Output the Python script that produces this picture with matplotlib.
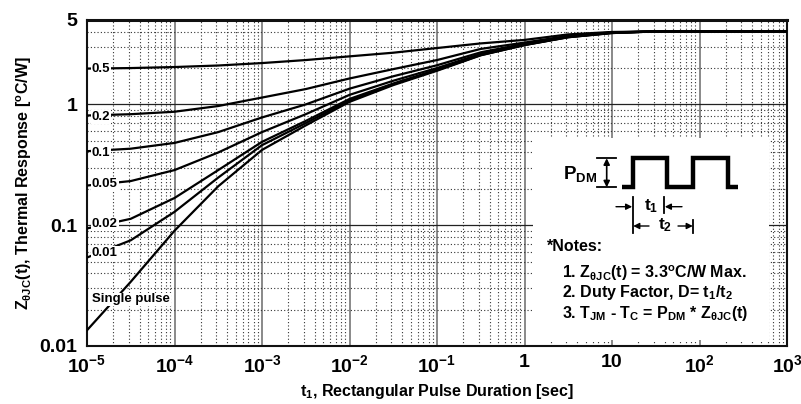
import numpy as np
import matplotlib
matplotlib.use('Agg')
import matplotlib.pyplot as plt
from matplotlib.ticker import LogLocator, NullFormatter

plt.rcParams['font.family'] = 'Liberation Sans'
plt.rcParams['font.weight'] = 'bold'
plt.rcParams['axes.labelweight'] = 'bold'
plt.rcParams['mathtext.fontset'] = 'custom'
plt.rcParams['mathtext.rm'] = 'Liberation Sans:bold'
plt.rcParams['mathtext.it'] = 'Liberation Sans:bold'
plt.rcParams['mathtext.bf'] = 'Liberation Sans:bold'
plt.rcParams['mathtext.sf'] = 'Liberation Sans'
plt.rcParams['mathtext.default'] = 'rm'

# pulse duration t1 [sec], read at half decades
t = [1e-5, 3.16e-5, 1e-4, 3.16e-4, 1e-3, 3.16e-3, 1e-2, 3.16e-2,
     1e-1, 3.16e-1, 1, 3.16, 10, 31.6, 100, 1000]

# thermal response Z [C/W] per duty factor
z_d05 = [1.98, 2.0, 2.04, 2.1, 2.2, 2.33, 2.5, 2.68, 2.93, 3.2, 3.42, 3.8, 3.98, 4.02, 4.02, 4.02]
z_d02 = [0.81, 0.83, 0.87, 0.97, 1.14, 1.34, 1.64, 1.96, 2.33, 2.88, 3.25, 3.7, 3.95, 4.02, 4.02, 4.02]
z_d01 = [0.41, 0.43, 0.48, 0.59, 0.78, 1.0, 1.35, 1.71, 2.11, 2.7, 3.18, 3.66, 3.94, 4.02, 4.02, 4.02]
z_d005 = [0.213, 0.232, 0.286, 0.40, 0.59, 0.83, 1.2, 1.57, 2.0, 2.62, 3.14, 3.64, 3.93, 4.02, 4.02, 4.02]
z_d002 = [0.094, 0.113, 0.168, 0.286, 0.49, 0.73, 1.11, 1.49, 1.94, 2.58, 3.12, 3.62, 3.92, 4.02, 4.02, 4.02]
z_d001 = [0.054, 0.075, 0.129, 0.248, 0.46, 0.70, 1.08, 1.47, 1.92, 2.56, 3.1, 3.6, 3.9, 4.02, 4.02, 4.02]
z_single = [0.0135, 0.034, 0.09, 0.21, 0.42, 0.67, 1.05, 1.445, 1.9, 2.55, 3.1, 3.6, 3.9, 4.02, 4.02, 4.02]

curve_labels = ['0.5', '0.2', '0.1', '0.05', '0.02', '0.01', 'Single pulse']
label_y = [0.850, 0.703, 0.592, 0.497, 0.374, 0.285, 0.143]  # axes fraction

xticks = [1e-5, 1e-4, 1e-3, 1e-2, 1e-1, 1, 10, 100, 1000]
xticklabels = ['$10^{-5}$', '$10^{-4}$', '$10^{-3}$', '$10^{-2}$', '$10^{-1}$',
               '1', '10', '$10^{2}$', '$10^{3}$']
yticks = [0.01, 0.1, 1, 5]
yticklabels = ['0.01', '0.1', '1', '5']

fig = plt.figure(figsize=(8.01, 4.04), dpi=100)
ax = fig.add_axes([87/801, 58/404, 700/801, 326/404])

for z in [z_d05, z_d02, z_d01, z_d005, z_d002, z_d001, z_single]:
    ax.plot(t, z, color='black', lw=1.6, zorder=3)

ax.set_xscale('log')
ax.set_yscale('log')
ax.set_xlim(1e-5, 1e3)
ax.set_ylim(0.01, 5)
ax.set_xticks(xticks)
ax.set_xticklabels(xticklabels)
ax.set_yticks(yticks)
ax.set_yticklabels(yticklabels)
ax.xaxis.set_minor_locator(LogLocator(base=10, subs=np.arange(2, 10), numticks=30))
ax.yaxis.set_minor_locator(LogLocator(base=10, subs=np.arange(2, 10), numticks=30))
ax.xaxis.set_minor_formatter(NullFormatter())
ax.yaxis.set_minor_formatter(NullFormatter())
ax.tick_params(which='both', length=0)
ax.tick_params(axis='x', labelsize=14, pad=6)
ax.tick_params(axis='y', labelsize=14, pad=7)

ax.set_axisbelow(True)
ax.grid(which='major', axis='x', color='#808080', lw=1.3, ls='-')
ax.grid(which='major', axis='y', color='#222222', lw=0.9, ls='-')
ax.grid(which='minor', color='#333333', lw=0.8, ls=(0, (1, 2)))
for s in ax.spines.values():
    s.set_linewidth(1.5)
    s.set_color('#111111')
ax.spines['top'].set_linewidth(2.2)

ax.set_xlabel('t$_1$, Rectangular Pulse Duration [sec]', fontsize=11.5, fontweight='bold',
              labelpad=4)
ax.set_ylabel(r'Z$_{\theta JC}$(t), Thermal Response [$^{\rm o}$C/W]', fontsize=11.5,
              fontweight='bold', labelpad=4)

for lab, ly in zip(curve_labels, label_y):
    ax.text(0.007, ly, lab, transform=ax.transAxes, fontsize=9.5, ha='left', va='center',
            zorder=4, bbox=dict(fc='white', ec='none', pad=0.6))

# notes box with pulse sketch, in pixel coordinates of the figure
nb = fig.add_axes([533/801, (404-340)/404, (769-533)/801, (340-138)/404])
nb.set_xlim(533, 769)
nb.set_ylim(340, 138)
nb.set_xticks([])
nb.set_yticks([])
for s in nb.spines.values():
    s.set_visible(False)

nb.plot([621.7, 632.7, 632.7, 666.7, 666.7, 692.7, 692.7, 727.7, 727.7, 738.3],
        [187.3, 187.3, 158.3, 158.3, 187.3, 187.3, 158.3, 158.3, 187.3, 187.3],
        color='black', lw=3.2, solid_joinstyle='miter', solid_capstyle='butt')
nb.plot([596.5, 616], [158.3, 158.3], color='black', lw=1.3)
nb.plot([596.5, 616], [187.3, 187.3], color='black', lw=1.3)
nb.annotate('', xy=(606.7, 158.3), xytext=(606.7, 187.3),
            arrowprops=dict(arrowstyle='<|-|>', color='black', lw=1.2, mutation_scale=9,
                            shrinkA=0, shrinkB=0))
nb.text(563, 174, r'$\mathsf{P_{DM}}$', fontsize=13.5, ha='left', va='center')

nb.plot([632.7, 632.7], [196.7, 233.3], color='black', lw=1.3)
nb.plot([664.3, 664.3], [196.7, 213.3], color='black', lw=1.3)
nb.plot([693.3, 693.3], [220, 233.3], color='black', lw=1.3)
arrow = dict(arrowstyle='-|>', color='black', lw=1.0, mutation_scale=9, shrinkA=0, shrinkB=0)
nb.annotate('', xy=(632.2, 206.7), xytext=(616, 206.7), arrowprops=arrow)
nb.annotate('', xy=(664.8, 206.7), xytext=(682, 206.7), arrowprops=arrow)
nb.annotate('', xy=(633.2, 226), xytext=(649, 226), arrowprops=arrow)
nb.annotate('', xy=(692.8, 226), xytext=(678, 226), arrowprops=arrow)
nb.text(651.5, 206, r'$\mathsf{t_1}$', fontsize=12.5, ha='center', va='center')
nb.text(665, 225, r'$\mathsf{t_2}$', fontsize=12.5, ha='center', va='center')

nb.text(546.7, 246.7, '*Notes:', fontsize=11.5, ha='left', va='center')
nb.text(561.7, 273.3, r'1. Z$_{\theta JC}$(t) = 3.3$^{\rm o}$C/W Max.', fontsize=11.5,
        ha='left', va='center')
nb.text(561.7, 292.7, '2. Duty Factor, D= t$_1$/t$_2$', fontsize=11.5, ha='left', va='center')
nb.text(561.7, 313.3, r'3. T$_{JM}$ - T$_C$ = P$_{DM}$ * Z$_{\theta JC}$(t)', fontsize=11.5,
        ha='left', va='center')

fig.savefig('out.png', dpi=100)
